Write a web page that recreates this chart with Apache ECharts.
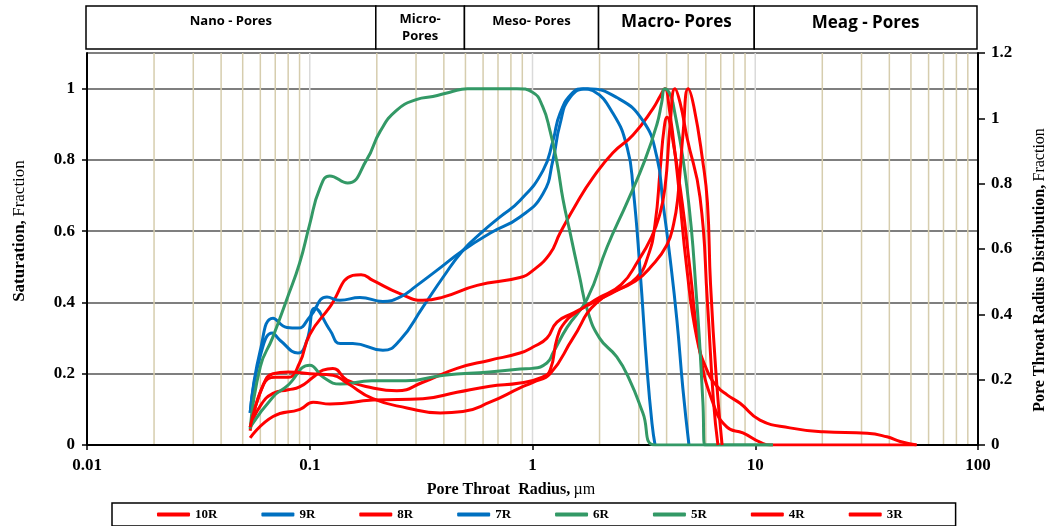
<!DOCTYPE html>
<html>
<head>
<meta charset="utf-8">
<script src="https://cdn.jsdelivr.net/npm/echarts@6/dist/echarts.min.js"></script>
<style>
  html, body { margin: 0; padding: 0; background: #ffffff; }
  #chart { width: 1054px; height: 526px; }
</style>
</head>
<body>
<div id="chart"></div>
<script>
// Pore throat radius (µm) vs saturation for each core sample.
const sampleNames = ['10R', '9R', '8R', '7R', '6R', '5R', '4R', '3R'];
const sampleColors = ['#FF0000', '#0070C0', '#FF0000', '#0070C0', '#339966', '#339966', '#FF0000', '#FF0000'];

const s10R = [[0.054,0.05],[0.06,0.11],[0.0684,0.145],[0.08,0.155],[0.09,0.163],[0.1035,0.19],[0.1146,0.21],[0.127,0.215],[0.147,0.182],[0.192,0.16],[0.246,0.152],[0.322,0.176],[0.458,0.215],[0.644,0.238],[0.879,0.258],[1.005,0.275],[1.161,0.30],[1.288,0.345],[1.52,0.37],[1.95,0.406],[2.39,0.434],[2.94,0.47],[3.3,0.53],[3.55,0.62],[3.75,0.78],[3.9,0.89],[4.02,0.92],[4.2,0.88],[4.7,0.68],[5.1,0.49],[5.65,0.26],[6.46,0.118],[7.47,0.05],[8.8,0.034],[10.5,0.008],[11.7,0],[53,0]];
const s9R = [[0.054,0.09],[0.06,0.25],[0.068,0.314],[0.0735,0.294],[0.0885,0.258],[0.0972,0.294],[0.1056,0.384],[0.1233,0.322],[0.137,0.285],[0.156,0.285],[0.213,0.266],[0.254,0.294],[0.322,0.387],[0.396,0.47],[0.487,0.546],[0.60,0.60],[0.715,0.64],[0.879,0.686],[1.114,0.77],[1.236,0.854],[1.328,0.93],[1.52,0.99],[1.69,1.0],[1.87,0.994],[2.3,0.93],[2.66,0.835],[2.83,0.72],[3.04,0.49],[3.27,0.21],[3.44,0.06],[3.55,0]];
const s8R = [[0.054,0.04],[0.062,0.17],[0.07,0.19],[0.08,0.19],[0.09,0.23],[0.1,0.31],[0.123,0.387],[0.156,0.476],[0.17,0.478],[0.192,0.462],[0.254,0.425],[0.322,0.406],[0.396,0.415],[0.564,0.448],[0.879,0.47],[1.005,0.49],[1.198,0.537],[1.328,0.594],[1.584,0.68],[1.869,0.75],[2.296,0.82],[2.826,0.87],[3.474,0.944],[3.75,0.98],[3.93,1.0],[4.1,0.95],[4.45,0.77],[4.94,0.49],[5.47,0.30],[6.07,0.21],[6.73,0.165],[7.5,0.14],[8.55,0.117],[10.5,0.07],[14.3,0.048],[20.2,0.037],[31.8,0.033],[39,0.023],[44.7,0.01],[53,0]];
const s7R = [[0.054,0.09],[0.06,0.266],[0.0684,0.356],[0.079,0.33],[0.0885,0.328],[0.1002,0.36],[0.1195,0.415],[0.1367,0.406],[0.168,0.414],[0.213,0.403],[0.254,0.415],[0.303,0.448],[0.372,0.49],[0.487,0.546],[0.644,0.594],[0.879,0.64],[1.114,0.705],[1.236,0.80],[1.328,0.90],[1.473,0.975],[1.76,1.0],[2.39,0.975],[3.13,0.91],[3.62,0.807],[3.85,0.68],[4.14,0.527],[4.45,0.35],[4.73,0.16],[5.04,0]];
const s6R = [[0.054,0.045],[0.06,0.22],[0.068,0.30],[0.079,0.41],[0.09,0.51],[0.1,0.62],[0.111,0.72],[0.123,0.755],[0.148,0.735],[0.18,0.80],[0.207,0.88],[0.246,0.94],[0.303,0.97],[0.357,0.978],[0.426,0.99],[0.51,1.0],[0.85,1.0],[1.0,0.99],[1.11,0.95],[1.2,0.88],[1.29,0.79],[1.37,0.69],[1.47,0.60],[1.63,0.47],[1.76,0.38],[2.0,0.30],[2.39,0.247],[2.74,0.18],[3.13,0.09],[3.55,0],[12,0]];
const s5R = [[0.054,0.05],[0.0684,0.135],[0.079,0.165],[0.1,0.224],[0.115,0.19],[0.137,0.171],[0.19,0.18],[0.27,0.18],[0.40,0.196],[0.64,0.205],[0.88,0.213],[1.0,0.215],[1.16,0.23],[1.24,0.26],[1.43,0.33],[1.76,0.41],[2.16,0.555],[2.68,0.686],[3.2,0.8],[3.62,0.9],[3.8,0.96],[3.93,1.0],[4.1,0.99],[4.27,0.96],[4.94,0.72],[5.47,0.40],[5.82,0.12],[5.94,0],[12,0]];
const s4R = [[0.054,0.02],[0.0684,0.08],[0.0904,0.10],[0.1035,0.12],[0.1233,0.115],[0.1923,0.126],[0.322,0.13],[0.458,0.148],[0.644,0.165],[0.879,0.174],[1.1,0.19],[1.2,0.21],[1.29,0.30],[1.4,0.345],[1.6,0.375],[1.95,0.41],[2.5,0.45],[3.0,0.52],[3.4,0.58],[3.7,0.64],[3.93,0.72],[4.15,0.9],[4.36,1.0],[4.6,0.96],[4.95,0.86],[5.65,0.695],[6.1,0.4],[6.5,0.12],[6.8,0]];
const s3R = [[0.054,0.05],[0.062,0.17],[0.0684,0.2],[0.08,0.205],[0.1,0.2],[0.127,0.196],[0.147,0.174],[0.192,0.13],[0.273,0.104],[0.385,0.09],[0.487,0.094],[0.644,0.12],[0.879,0.16],[1.005,0.176],[1.2,0.2],[1.52,0.30],[1.95,0.40],[2.9,0.46],[3.4,0.5],[4.0,0.56],[4.3,0.62],[4.5,0.70],[4.75,0.88],[5.0,1.0],[5.3,0.95],[5.8,0.8],[6.1,0.68],[6.3,0.45],[6.7,0.18],[7.1,0]];
const sampleData = [s10R, s9R, s8R, s7R, s6R, s5R, s4R, s3R];

// Pore-size classes shown in the banner above the plot (boundaries in µm).
const poreClassNames = ['Nano - Pores', 'Micro-\nPores', 'Meso- Pores', 'Macro- Pores', 'Meag - Pores'];
const poreClassBounds = [0.01, 0.2, 0.5, 2, 10, 100];

// Log-grid reference radii.
const decadeRadii = [0.1, 1, 10];
const minorRadii = [0.02,0.03,0.04,0.05,0.06,0.07,0.08,0.09,0.2,0.3,0.4,0.5,0.6,0.7,0.8,0.9,2,3,4,5,6,7,8,9,20,30,40,50,60,70,80,90];

const serif = '"Liberation Serif", "Times New Roman", serif';
const sans = '"Open Sans", "Noto Sans", sans-serif';

const chart = echarts.init(document.getElementById('chart'), null, { renderer: 'canvas' });

// Vertical log grid lines, drawn through the x scale.
function gridLineSeries(values, color, width) {
  return {
    type: 'custom',
    xAxisIndex: 0,
    yAxisIndex: 0,
    silent: true,
    z: 0,
    encode: { x: 0, y: 1 },
    data: values.map(v => [v, 0]),
    renderItem: function (params, api) {
      const p0 = api.coord([api.value(0), 0]);
      const p1 = api.coord([api.value(0), 1.1]);
      return {
        type: 'line',
        shape: { x1: p0[0], y1: p0[1], x2: p1[0], y2: p1[1] },
        style: { stroke: color, lineWidth: width }
      };
    }
  };
}

const bannerFonts = [13, 13, 13, 17, 17];
const bannerOffsets = [7, 5, 7, 8, 9];

const bannerSeries = {
  type: 'custom',
  xAxisIndex: 1,
  yAxisIndex: 2,
  silent: true,
  encode: { x: [0, 1], y: 2 },
  data: poreClassNames.map((n, i) => [poreClassBounds[i], poreClassBounds[i + 1], 0.5, i]),
  renderItem: function (params, api) {
    const i = api.value(3);
    const a = api.coord([api.value(0), 1]);
    const b = api.coord([api.value(1), 0]);
    return {
      type: 'group',
      children: [
        {
          type: 'rect',
          shape: { x: a[0], y: a[1], width: b[0] - a[0], height: b[1] - a[1] },
          style: { fill: '#ffffff', stroke: '#000000', lineWidth: 1.5 }
        },
        {
          type: 'text',
          style: {
            text: poreClassNames[i],
            x: (a[0] + b[0]) / 2,
            y: a[1] + bannerOffsets[i],
            align: 'center',
            verticalAlign: 'top',
            fontFamily: sans,
            fontWeight: 'bold',
            fontSize: bannerFonts[i],
            lineHeight: 17,
            fill: '#000000'
          }
        }
      ]
    };
  }
};

const lineSeries = sampleNames.map((name, i) => ({
  name: name,
  type: 'line',
  xAxisIndex: 0,
  yAxisIndex: 0,
  data: sampleData[i],
  showSymbol: false,
  symbol: 'none',
  smooth: 0.5,
  z: 3 + i,
  lineStyle: { color: sampleColors[i], width: 3 },
  itemStyle: { color: sampleColors[i] }
}));

const option = {
  backgroundColor: '#ffffff',
  animation: false,
  grid: [
    { left: 87, right: 76, top: 53, bottom: 81, containLabel: false },
    { left: 86, right: 77, top: 6, height: 43, containLabel: false }
  ],
  legend: {
    left: 112,
    top: 503,
    orient: 'horizontal',
    padding: [5, 53, 5, 45],
    itemGap: 44,
    itemWidth: 33,
    itemHeight: 4,
    icon: 'roundRect',
    borderColor: '#000000',
    borderWidth: 1.5,
    borderRadius: 0,
    backgroundColor: '#ffffff',
    selectedMode: false,
    data: sampleNames,
    textStyle: {
      fontFamily: serif,
      fontWeight: 'bold',
      fontSize: 13,
      color: '#000000'
    }
  },
  xAxis: [
    {
      type: 'log',
      logBase: 10,
      min: 0.01,
      max: 100,
      gridIndex: 0,
      axisLine: { show: true, onZero: false, lineStyle: { color: '#000000', width: 2 } },
      axisTick: { show: true, length: 5, lineStyle: { color: '#000000', width: 1.5 } },
      splitLine: { show: false },
      minorTick: { show: false },
      axisLabel: {
        margin: 12,
        fontFamily: serif,
        fontWeight: 'bold',
        fontSize: 17,
        color: '#000000',
        formatter: function (v) { return String(+v.toPrecision(6)); }
      }
    },
    {
      type: 'log',
      logBase: 10,
      min: 0.01,
      max: 100,
      gridIndex: 1,
      show: false
    }
  ],
  yAxis: [
    {
      type: 'value',
      gridIndex: 0,
      min: 0,
      max: 1.1,
      interval: 0.2,
      position: 'left',
      axisLine: { show: true, onZero: false, lineStyle: { color: '#000000', width: 2 } },
      axisTick: { show: true, length: 5, lineStyle: { color: '#000000', width: 1.5 } },
      splitLine: { show: true, lineStyle: { color: '#555555', width: 1.5 } },
      axisLabel: {
        margin: 12,
        showMaxLabel: false,
        fontFamily: serif,
        fontWeight: 'bold',
        fontSize: 17,
        color: '#000000'
      }
    },
    {
      type: 'value',
      gridIndex: 0,
      min: 0,
      max: 1.2,
      interval: 0.2,
      position: 'right',
      axisLine: { show: true, onZero: false, lineStyle: { color: '#000000', width: 2 } },
      axisTick: { show: true, length: 7, lineStyle: { color: '#000000', width: 1.5 } },
      splitLine: { show: false },
      axisLabel: {
        margin: 13,
        fontFamily: serif,
        fontWeight: 'bold',
        fontSize: 17,
        color: '#000000'
      }
    },
    {
      type: 'value',
      gridIndex: 1,
      min: 0,
      max: 1,
      show: false
    }
  ],
  graphic: [
    {
      type: 'text',
      x: 511,
      y: 490,
      style: {
        text: '{b|Pore Throat  Radius,} {n|µm}',
        align: 'center',
        verticalAlign: 'middle',
        rich: {
          b: { fontFamily: serif, fontWeight: 'bold', fontSize: 16, fill: '#000000' },
          n: { fontFamily: serif, fontWeight: 'normal', fontSize: 16, fill: '#000000' }
        }
      }
    },
    {
      type: 'text',
      x: 20,
      y: 231,
      rotation: Math.PI / 2,
      style: {
        text: '{b|Saturation,} {n|Fraction}',
        align: 'center',
        verticalAlign: 'middle',
        rich: {
          b: { fontFamily: serif, fontWeight: 'bold', fontSize: 17, fill: '#000000' },
          n: { fontFamily: serif, fontWeight: 'normal', fontSize: 17, fill: '#000000' }
        }
      }
    },
    {
      type: 'text',
      x: 1040,
      y: 270,
      rotation: Math.PI / 2,
      style: {
        text: '{b|Pore Throat Radius Distribution,} {n|Fraction}',
        align: 'center',
        verticalAlign: 'middle',
        rich: {
          b: { fontFamily: serif, fontWeight: 'bold', fontSize: 16, fill: '#000000' },
          n: { fontFamily: serif, fontWeight: 'normal', fontSize: 16, fill: '#000000' }
        }
      }
    }
  ],
  series: [
    gridLineSeries(minorRadii, '#D6CDAE', 1.5),
    gridLineSeries(decadeRadii, '#DADADA', 1.5),
    bannerSeries
  ].concat(lineSeries)
};

chart.setOption(option);
</script>
</body>
</html>
